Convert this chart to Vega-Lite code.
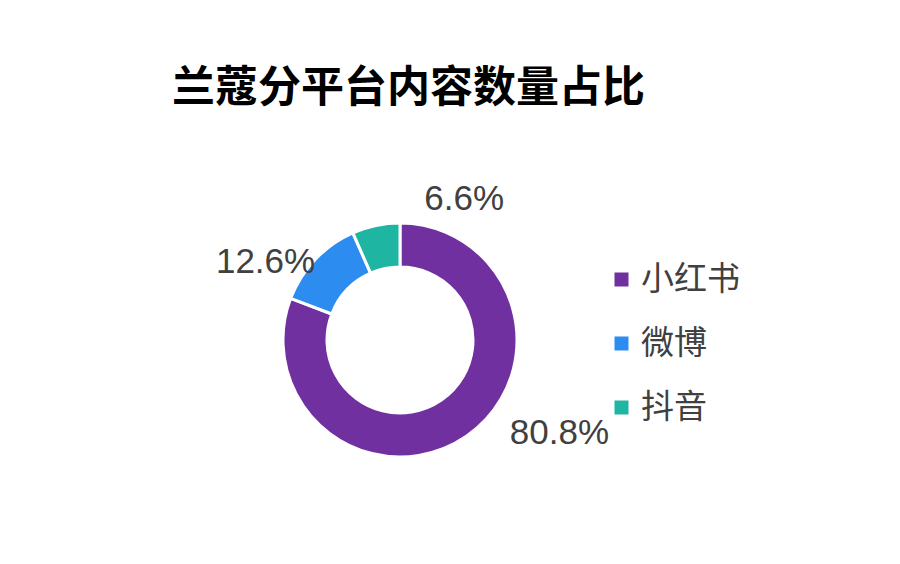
{
  "$schema": "https://vega.github.io/schema/vega-lite/v6.json",
  "width": 500,
  "height": 380,
  "autosize": {"type": "none"},
  "padding": {"left": 150, "top": 150, "right": 250, "bottom": 34},
  "background": "white",
  "title": {
    "text": "兰蔻分平台内容数量占比",
    "font": "Noto Sans CJK SC",
    "fontSize": 43,
    "fontWeight": "bold",
    "color": "#000000",
    "anchor": "start",
    "frame": "group",
    "baseline": "bottom",
    "dx": 22,
    "offset": 32,
    "dy": 36
  },
  "data": {
    "values": [
      {"platform": "小红书", "share": 80.8, "label": "80.8%"},
      {"platform": "微博", "share": 12.6, "label": "12.6%"},
      {"platform": "抖音", "share": 6.6, "label": "6.6%"}
    ]
  },
  "encoding": {
    "theta": {"field": "share", "type": "quantitative", "stack": true},
    "order": {"field": "share", "type": "quantitative", "sort": "descending"},
    "color": {
      "field": "platform",
      "type": "nominal",
      "scale": {
        "domain": ["小红书", "微博", "抖音"],
        "range": ["#7030A0", "#2D8CF0", "#1FB5A3"]
      },
      "legend": {
        "title": null,
        "orient": "none",
        "legendX": 455,
        "legendY": 113,
        "padding": 0,
        "symbolType": "square",
        "symbolSize": 196,
        "symbolStrokeWidth": 0,
        "labelFont": "Noto Sans CJK SC",
        "labelFontSize": 33,
        "labelColor": "#404040",
        "labelOffset": 3,
        "rowPadding": 30
      }
    }
  },
  "layer": [
    {
      "mark": {"type": "arc", "innerRadius": 73, "outerRadius": 117, "stroke": "#ffffff", "strokeWidth": 3}
    },
    {
      "mark": {"type": "text", "radius": 140, "dx": 80, "dy": -22, "font": "Liberation Sans", "fontSize": 35, "color": "#404040", "align": "center", "baseline": "middle"},
      "encoding": {
        "text": {"condition": {"test": "datum.platform === '小红书'", "field": "label"}, "value": ""},
        "color": {"value": "#404040"}
      }
    },
    {
      "mark": {"type": "text", "radius": 140, "dx": -33, "dy": 18, "font": "Liberation Sans", "fontSize": 35, "color": "#404040", "align": "center", "baseline": "middle"},
      "encoding": {
        "text": {"condition": {"test": "datum.platform === '微博'", "field": "label"}, "value": ""},
        "color": {"value": "#404040"}
      }
    },
    {
      "mark": {"type": "text", "radius": 140, "dx": 93, "dy": -4, "font": "Liberation Sans", "fontSize": 35, "color": "#404040", "align": "center", "baseline": "middle"},
      "encoding": {
        "text": {"condition": {"test": "datum.platform === '抖音'", "field": "label"}, "value": ""},
        "color": {"value": "#404040"}
      }
    }
  ],
  "config": {"view": {"stroke": null}}
}
